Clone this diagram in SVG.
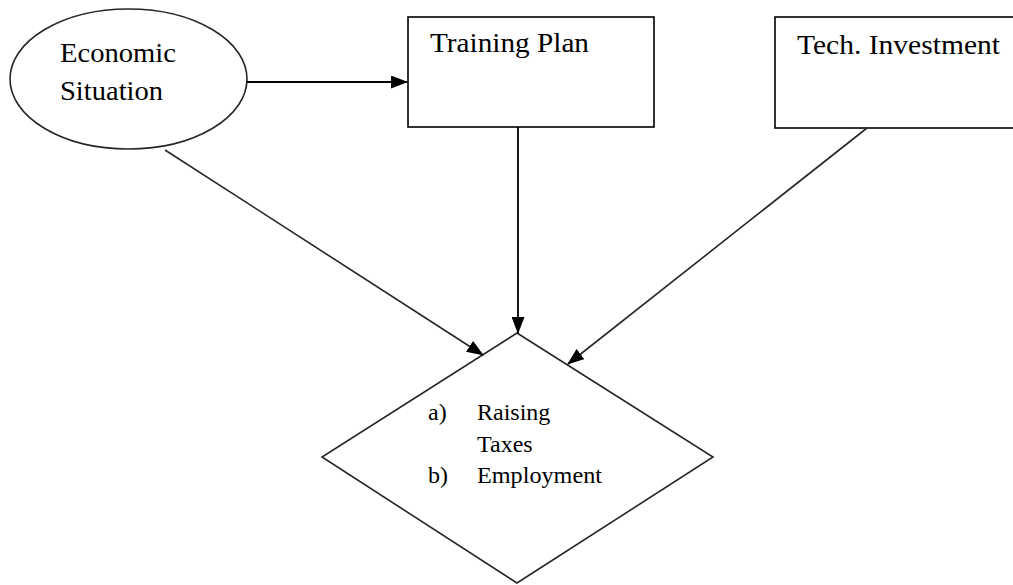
<svg xmlns="http://www.w3.org/2000/svg" width="1013" height="585" viewBox="0 0 1013 585">
<style>
.shape{fill:#fff;stroke:#000;stroke-width:1.6}
.thin{fill:#fff;stroke:#262626;stroke-width:1.6}
text{font-family:"Liberation Serif","DejaVu Serif","Times New Roman",serif;fill:#000}
.lbl{font-size:28px}
.sm{font-size:24px}
.conn{stroke:#000;stroke-width:1.8;fill:none}
.diag{stroke:#262626;stroke-width:1.6;fill:none}
</style>
<defs>
<marker id="ah" markerWidth="17" markerHeight="13" refX="16" refY="6.5" orient="auto" markerUnits="userSpaceOnUse">
<path d="M0,0 L17,6.5 L0,13 Z" fill="#000"/>
</marker>
</defs>
<rect width="1013" height="585" fill="#fff"/>
<g id="economic">
<ellipse class="thin" cx="128.5" cy="79" rx="118.5" ry="70"/>
<text class="lbl" x="60" y="62" textLength="116" lengthAdjust="spacingAndGlyphs" font-family="Liberation Serif, DejaVu Serif, serif">Economic</text>
<text class="lbl" x="60" y="100" textLength="103" lengthAdjust="spacingAndGlyphs" font-family="Liberation Serif, DejaVu Serif, serif">Situation</text>
</g>
<g id="training">
<rect class="shape" x="408" y="17" width="246" height="110"/>
<text class="lbl" x="430" y="52" textLength="159" lengthAdjust="spacingAndGlyphs" font-family="Liberation Serif, DejaVu Serif, serif">Training Plan</text>
</g>
<g id="tech">
<rect class="shape" x="775" y="17" width="250" height="111"/>
<text class="lbl" x="797" y="54" textLength="203" lengthAdjust="spacingAndGlyphs" font-family="Liberation Serif, DejaVu Serif, serif">Tech. Investment</text>
</g>
<g id="outcome">
<polygon class="thin" points="517,333 713,457 517,583 322,457"/>
<text class="sm" x="428" y="420" font-family="Liberation Serif, DejaVu Serif, serif">a)</text>
<text class="sm" x="477" y="420" font-family="Liberation Serif, DejaVu Serif, serif">Raising</text>
<text class="sm" x="477" y="452" font-family="Liberation Serif, DejaVu Serif, serif">Taxes</text>
<text class="sm" x="428" y="483" font-family="Liberation Serif, DejaVu Serif, serif">b)</text>
<text class="sm" x="477" y="483" textLength="125" lengthAdjust="spacingAndGlyphs" font-family="Liberation Serif, DejaVu Serif, serif">Employment</text>
</g>
<g id="connectors">
<line class="conn" x1="247" y1="82" x2="407" y2="82" marker-end="url(#ah)"/>
<line class="conn" x1="518" y1="127" x2="518" y2="333" marker-end="url(#ah)"/>
<line class="diag" x1="165" y1="150" x2="483" y2="355" marker-end="url(#ah)"/>
<line class="diag" x1="867" y1="128" x2="568" y2="364" marker-end="url(#ah)"/>
</g>
</svg>
